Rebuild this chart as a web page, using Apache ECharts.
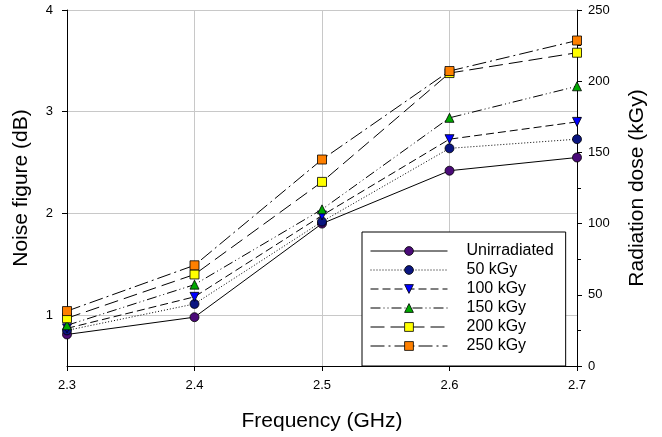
<!DOCTYPE html>
<html>
<head>
<meta charset="utf-8">
<script src="https://cdn.jsdelivr.net/npm/echarts@6/dist/echarts.min.js"></script>
<style>html,body{margin:0;padding:0;background:#fff;}#c{width:662px;height:437px;}</style>
</head>
<body>
<div id="c"></div>
<script>
const frequency = [2.3, 2.4, 2.5, 2.6, 2.7];
const seriesNames = ['Unirradiated', '50 kGy', '100 kGy', '150 kGy', '200 kGy', '250 kGy'];
const unirradiated = [0.81, 0.98, 1.90, 2.42, 2.55];
const kGy50 = [0.85, 1.11, 1.92, 2.64, 2.73];
const kGy100 = [0.87, 1.18, 1.98, 2.73, 2.90];
const kGy150 = [0.90, 1.30, 2.04, 2.94, 3.25];
const kGy200 = [0.97, 1.40, 2.31, 3.38, 3.58];
const kGy250 = [1.04, 1.49, 2.53, 3.40, 3.70];
const leftTicks = [1, 2, 3, 4];

const values = [unirradiated, kGy50, kGy100, kGy150, kGy200, kGy250];
const symbols = ['circle', 'circle', 'triangle', 'triangle', 'rect', 'rect'];
const rotations = [0, 0, 180, 0, 0, 0];
const fills = ['#4a0a78', '#0a1580', '#0000ff', '#00a800', '#ffff00', '#ff8000'];
const dashes = ['solid', [1, 2], [8, 4], [10, 3, 1, 3, 1, 3], [14, 6], [14, 4, 2, 4]];
const font = '"Liberation Sans", Arial, sans-serif';

const series = seriesNames.map((name, i) => ({
  name: name,
  type: 'line',
  yAxisIndex: 0,
  data: frequency.map((f, j) => [f, values[i][j]]),
  symbol: symbols[i],
  symbolRotate: rotations[i],
  symbolSize: 9,
  showAllSymbol: true,
  lineStyle: { color: '#000', width: 1, type: dashes[i] },
  itemStyle: { color: fills[i], borderColor: '#000', borderWidth: 0.8 },
  emphasis: { disabled: true },
  animation: false
}));

const chart = echarts.init(document.getElementById('c'), null, { renderer: 'canvas' });
chart.setOption({
  animation: false,
  backgroundColor: '#fff',
  textStyle: { fontFamily: font, color: '#000' },
  grid: { left: 67, right: 85, top: 10, bottom: 70, containLabel: false },
  legend: {
    orient: 'vertical',
    left: 362,
    top: 232,
    padding: [11, 12, 12, 8],
    itemWidth: 77,
    itemHeight: 11,
    itemGap: 3,
    backgroundColor: '#fff',
    borderColor: '#000',
    borderWidth: 1,
    borderRadius: 0,
    selectedMode: false,
    lineStyle: { width: 1 },
    itemStyle: { borderWidth: 0.8, borderColor: '#000' },
    textStyle: { fontFamily: font, fontSize: 16, color: '#000', padding: [0, 0, 0, 14] },
    data: seriesNames
  },
  xAxis: {
    type: 'value',
    min: 2.3,
    max: 2.7,
    interval: 0.1,
    name: 'Frequency (GHz)',
    nameLocation: 'middle',
    nameGap: 45,
    nameTextStyle: { fontFamily: font, fontSize: 21, color: '#000' },
    axisLine: { show: true, lineStyle: { color: '#000', width: 1 } },
    axisTick: { show: true, inside: false, length: 5, lineStyle: { color: '#000' } },
    axisLabel: { fontFamily: font, fontSize: 13, color: '#000', margin: 13, formatter: v => v.toFixed(1) },
    splitLine: { show: true, lineStyle: { color: '#c8c8c8', width: 1 } }
  },
  yAxis: [
    {
      type: 'value',
      position: 'left',
      min: 0.5,
      max: 4,
      name: 'Noise figure (dB)',
      nameLocation: 'middle',
      nameGap: 35,
      nameTextStyle: { fontFamily: font, fontSize: 21, color: '#000' },
      axisLine: { show: true, lineStyle: { color: '#000', width: 1 } },
      axisTick: { show: true, inside: false, length: 5, customValues: leftTicks, lineStyle: { color: '#000' } },
      axisLabel: { fontFamily: font, fontSize: 13, color: '#000', margin: 14, customValues: leftTicks },
      splitLine: { show: true, lineStyle: { color: '#c8c8c8', width: 1 } }
    },
    {
      type: 'value',
      position: 'right',
      min: 0,
      max: 250,
      interval: 50,
      name: 'Radiation dose (kGy)',
      nameLocation: 'middle',
      nameGap: 50,
      nameRotate: 90,
      nameTextStyle: { fontFamily: font, fontSize: 21, color: '#000' },
      axisLine: { show: true, onZero: false, lineStyle: { color: '#000', width: 1 } },
      axisTick: { show: true, inside: false, length: 5, lineStyle: { color: '#000' } },
      minorTick: { show: true, splitNumber: 2, length: 4, lineStyle: { color: '#000' } },
      axisLabel: { fontFamily: font, fontSize: 13, color: '#000', margin: 11 },
      splitLine: { show: false }
    }
  ],
  series: series
});
</script>
</body>
</html>
